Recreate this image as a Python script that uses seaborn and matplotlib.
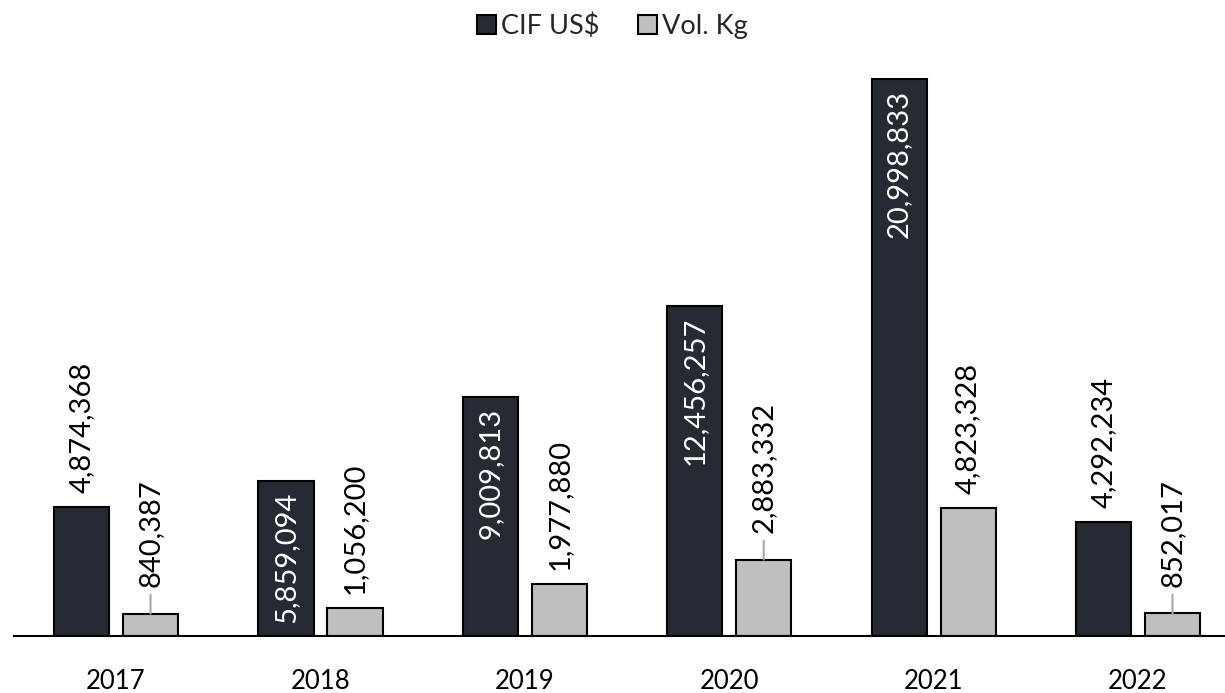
#!/usr/bin/env python3
"""CIF US$ and Vol. Kg by year, grouped bars with rotated value labels."""
import pandas as pd
import matplotlib
matplotlib.use('Agg')
import matplotlib.pyplot as plt
import seaborn as sns

years = ['2017', '2018', '2019', '2020', '2021', '2022']
cif_usd = [4874368, 5859094, 9009813, 12456257, 20998833, 4292234]
vol_kg = [840387, 1056200, 1977880, 2883332, 4823328, 852017]
series_names = ['CIF US$', 'Vol. Kg']

# label placement: CIF labels inside the bar for these years, leader lines on small Vol labels
cif_inside = ['2018', '2019', '2020', '2021']
vol_leader = ['2017', '2020', '2022']

DARK = '#232a35'
GRAY = '#bfbfbf'
LABEL_SIZE = 21

df = pd.DataFrame({
    'year': years * 2,
    'series': [series_names[0]] * len(years) + [series_names[1]] * len(years),
    'value': cif_usd + vol_kg,
})

sns.set_style('white')
plt.rcParams['font.family'] = ['Lato', 'DejaVu Sans']

fig = plt.figure(figsize=(12.25, 6.93), dpi=100)
# the plot area runs a little past the right edge, as in the cropped original
ax = fig.add_axes([0.0113, 0.0823, 1.0011, 0.83])

sns.barplot(data=df, x='year', y='value', hue='series', palette=[DARK, GRAY],
            width=0.675, gap=0.2, edgecolor='black', linewidth=1.5, ax=ax)

ax.set_ylim(0, 21.7e6)
ax.set_xlim(-0.5, len(years) - 0.5)
ax.set_xlabel('')
ax.set_ylabel('')
ax.set_yticks([])
for s in ['top', 'left', 'right']:
    ax.spines[s].set_visible(False)
ax.spines['bottom'].set_color('black')
ax.spines['bottom'].set_linewidth(1.5)
ax.tick_params(axis='x', length=0, labelsize=18.5, pad=24, colors='black')

# value labels
for bar, yr, v in zip(ax.containers[0], years, cif_usd):
    x = bar.get_x() + bar.get_width() / 2
    txt = f'{v:,}'
    if yr in cif_inside:
        ax.annotate(txt, (x, v), xytext=(0, -8), textcoords='offset points',
                    rotation=90, ha='center', va='top', color='white', fontsize=LABEL_SIZE)
    else:
        ax.annotate(txt, (x, v), xytext=(0, 10), textcoords='offset points',
                    rotation=90, ha='center', va='bottom', color='black', fontsize=LABEL_SIZE)

for bar, yr, v in zip(ax.containers[1], years, vol_kg):
    x = bar.get_x() + bar.get_width() / 2
    txt = f'{v:,}'
    if yr in vol_leader:
        ax.annotate(txt, (x, v), xytext=(0, 19), textcoords='offset points',
                    rotation=90, ha='center', va='bottom', color='black', fontsize=LABEL_SIZE,
                    arrowprops=dict(arrowstyle='-', color='#a6a6a6', lw=1.5,
                                    shrinkA=3, shrinkB=0))
    else:
        ax.annotate(txt, (x, v), xytext=(0, 10), textcoords='offset points',
                    rotation=90, ha='center', va='bottom', color='black', fontsize=LABEL_SIZE)

handles, labels = ax.get_legend_handles_labels()
ax.legend(handles, labels, loc='upper center', bbox_to_anchor=(0.5, 1.0),
          bbox_transform=fig.transFigure, ncol=2, frameon=False, fontsize=19.5,
          handlelength=0.7, handleheight=0.7, handletextpad=0.2, columnspacing=1.4,
          borderaxespad=0.1)

fig.savefig('out.png', dpi=100)
plt.close(fig)
